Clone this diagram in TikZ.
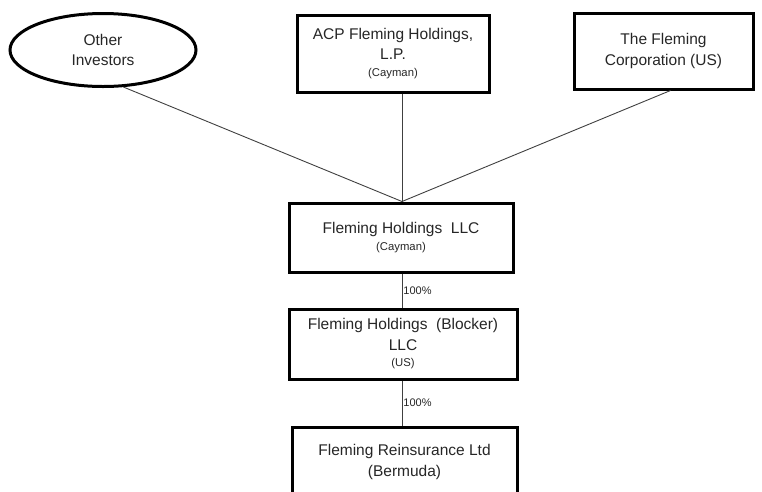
\documentclass[tikz,border=0pt]{standalone}
\usepackage{fontspec}
\setmainfont{Liberation Sans}
\usetikzlibrary{shapes.geometric}
\begin{document}
\begin{tikzpicture}[x=1pt,y=-1pt,
  entity/.style={draw=black,line width=3pt,align=center,inner sep=0pt,text=black!85,
     font=\fontsize{15.5}{20.5}\selectfont},
  conn/.style={draw=black!75,line width=0.9pt},
  pct/.style={anchor=west,inner sep=1pt,text=black!85,font=\fontsize{11}{13}\selectfont}]
\useasboundingbox (0,0) rectangle (762,491);
\clip (0,0) rectangle (762,491);
\newcommand{\smalltxt}[1]{{\fontsize{11.3}{15}\selectfont #1}}
\node[entity,ellipse,minimum width=186pt,minimum height=73pt] (oi) at (103,50) {Other\\Investors};
\node[entity,minimum width=192pt,minimum height=77pt] (acp) at (393,53.5) {ACP Fleming Holdings,\\L.P.\\[-4pt]\smalltxt{(Cayman)}};
\node[entity,minimum width=179pt,minimum height=76pt] (fc) at (663.5,51) {The Fleming\\Corporation (US)};
\node[entity,minimum width=224pt,minimum height=69pt] (fh) at (401,237.5) {Fleming Holdings\ \ LLC\\[-4pt]\smalltxt{(Cayman)}};
\node[entity,minimum width=228pt,minimum height=70pt] (bl) at (403,344) {Fleming Holdings\ \ (Blocker)\\LLC\\[-4pt]\smalltxt{(US)}};
\node[entity,minimum width=225pt,minimum height=70pt] (re) at (404.5,462) {Fleming Reinsurance Ltd\\(Bermuda)};
\coordinate (top) at ([xshift=1pt]fh.north);
\draw[conn] (oi.-61) -- (top);
\draw[conn] (acp.south -| top) -- (top);
\draw[conn] ([xshift=7pt]fc.south) -- (top);
\draw[conn] (fh.south -| top) -- (bl.north -| top) node[pct,midway] {100\%};
\draw[conn] (bl.south -| top) -- (re.north -| top) node[pct,midway] {100\%};
\end{tikzpicture}
\end{document}
